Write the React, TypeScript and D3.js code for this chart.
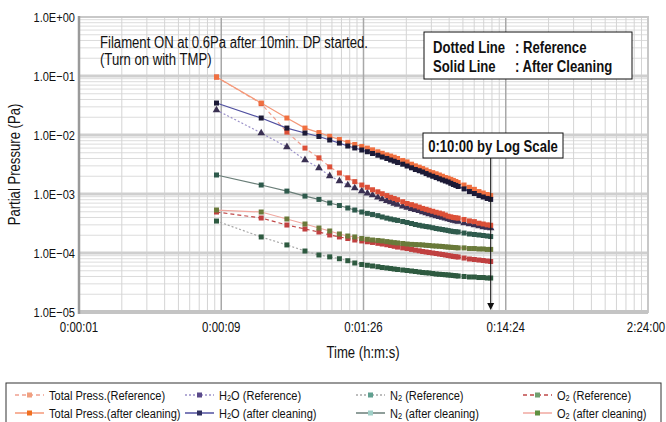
import React from 'react';
import * as d3 from 'd3';

// sample times in seconds after filament ON
const times = [8, 16.5, 25, 33.5, 42, 50, 58.5, 67, 75, 84, 92, 100, 109, 117, 126, 134, 142, 150, 163, 175, 188, 200, 213, 225, 238, 250, 265, 280, 295, 310, 325, 340, 355, 370, 385, 400, 440, 480, 520, 560, 600, 640, 677];

const totalRef = [0.096, 0.034, 0.0112, 0.006, 0.0041, 0.00288, 0.00227, 0.00188, 0.00162, 0.00142, 0.0013, 0.00118, 0.00109, 0.00101, 0.00094, 0.00088, 0.00084, 0.0008, 0.00074, 0.00069, 0.00066, 0.00063, 0.0006, 0.00057, 0.00055, 0.00053, 0.00051, 0.00049, 0.000475, 0.00046, 0.00044, 0.00042, 0.00041, 0.0004, 0.000395, 0.00039, 0.00037, 0.00035, 0.00034, 0.00032, 0.00031, 0.0003, 0.000295];
const totalAfter = [0.096, 0.0348, 0.0194, 0.0131, 0.011, 0.0095, 0.0084, 0.0075, 0.0069, 0.0064, 0.006, 0.0056, 0.0052, 0.0049, 0.0046, 0.0044, 0.0042, 0.004, 0.0037, 0.0035, 0.0032, 0.003, 0.00285, 0.0027, 0.00255, 0.0024, 0.0023, 0.0022, 0.0021, 0.002, 0.0019, 0.00185, 0.00177, 0.0017, 0.00163, 0.00156, 0.00142, 0.0013, 0.0012, 0.0011, 0.00104, 0.00098, 0.00094];
const h2oRef = [0.0265, 0.0108, 0.00626, 0.00377, 0.00276, 0.00202, 0.00166, 0.00142, 0.00126, 0.00112, 0.00103, 0.00096, 0.00088, 0.00082, 0.00077, 0.00073, 0.00069, 0.00066, 0.00062, 0.00059, 0.00056, 0.00054, 0.00052, 0.000495, 0.000475, 0.000458, 0.00044, 0.000424, 0.00041, 0.0004, 0.000388, 0.000377, 0.000366, 0.000356, 0.000349, 0.000342, 0.000322, 0.00031, 0.000298, 0.000287, 0.000276, 0.000271, 0.000265];
const h2oAfter = [0.0348, 0.0194, 0.0131, 0.0108, 0.00944, 0.00823, 0.0073, 0.00651, 0.00603, 0.00557, 0.0052, 0.00486, 0.00454, 0.00424, 0.004, 0.00377, 0.0036, 0.00342, 0.0032, 0.00298, 0.00278, 0.0026, 0.00248, 0.00236, 0.00222, 0.0021, 0.002, 0.0019, 0.00181, 0.00173, 0.00166, 0.0016, 0.00152, 0.00145, 0.0014, 0.00134, 0.00122, 0.0011, 0.00102, 0.00094, 0.00089, 0.00084, 0.00081];
const n2Ref = [0.000348, 0.000187, 0.000137, 0.000108, 0.0000925, 0.000086, 0.00008, 0.000074, 0.0000677, 0.0000638, 0.000062, 0.0000602, 0.0000585, 0.0000568, 0.0000557, 0.0000546, 0.0000535, 0.0000525, 0.0000515, 0.0000505, 0.0000495, 0.0000486, 0.0000476, 0.0000467, 0.0000462, 0.0000458, 0.0000449, 0.000044, 0.0000436, 0.0000432, 0.0000428, 0.0000424, 0.000042, 0.0000415, 0.0000411, 0.0000407, 0.00004, 0.0000392, 0.0000392, 0.0000384, 0.0000384, 0.0000377, 0.0000377];
const n2After = [0.0021, 0.00142, 0.00112, 0.00092, 0.00081, 0.000704, 0.000638, 0.000579, 0.000535, 0.000495, 0.00047, 0.00045, 0.00043, 0.000408, 0.00039, 0.000377, 0.000366, 0.000356, 0.000342, 0.000329, 0.000316, 0.000304, 0.000295, 0.000287, 0.000281, 0.000276, 0.000268, 0.00026, 0.000255, 0.00025, 0.000245, 0.00024, 0.000235, 0.000231, 0.000229, 0.000227, 0.000218, 0.00021, 0.000206, 0.000202, 0.000198, 0.000194, 0.00019];
const o2Ref = [0.000495, 0.000392, 0.000298, 0.000255, 0.000227, 0.000202, 0.000187, 0.000176, 0.000166, 0.00016, 0.000155, 0.000151, 0.000146, 0.000142, 0.000138, 0.000134, 0.00013, 0.000126, 0.000122, 0.000119, 0.000115, 0.000112, 0.000109, 0.000106, 0.000104, 0.000102, 0.0001, 0.000098, 0.000096, 0.0000944, 0.0000925, 0.0000908, 0.000089, 0.0000873, 0.0000864, 0.0000855, 0.0000822, 0.0000791, 0.0000776, 0.000076, 0.0000746, 0.0000731, 0.0000718];
const o2After = [0.000535, 0.000495, 0.000377, 0.00031, 0.000265, 0.000236, 0.00021, 0.000194, 0.000187, 0.000176, 0.000171, 0.000166, 0.000163, 0.00016, 0.000156, 0.000153, 0.00015, 0.000148, 0.000145, 0.000142, 0.00014, 0.000139, 0.000138, 0.000137, 0.000135, 0.000134, 0.000132, 0.000131, 0.00013, 0.000129, 0.000127, 0.000126, 0.000125, 0.000124, 0.000123, 0.000122, 0.000122, 0.000119, 0.000119, 0.000117, 0.000117, 0.000115, 0.000115];

// axis ticks: x in seconds (0.00001 .. 0.1 day), y in Pa
const xTicks = [0.864, 8.64, 86.4, 864, 8640];
const yTicks = [1, 1e-1, 1e-2, 1e-3, 1e-4, 1e-5];
const yTickLabels = ['1.0E+00', '1.0E\u221201', '1.0E\u221202', '1.0E\u221203', '1.0E\u221204', '1.0E\u221205'];
const markerTime = 677;

const FONT = '"Liberation Sans", Arial, sans-serif';
const NARROW = 0.82; // no condensed face installed, squeeze Liberation Sans

type Series = {
  key: string;
  pre: string;
  sub?: string;
  post?: string;
  values: number[];
  line: string;
  marker: string;
  legendMarker: string;
  dash: string | null;
  shape: 'square' | 'triangle';
};

const series: Series[] = [
  { key: 'h2oRef', pre: 'H', sub: '2', post: 'O (Reference)', values: h2oRef, line: '#9a90c8', marker: '#3a3052', legendMarker: '#5a4a8a', dash: '2,2', shape: 'triangle' },
  { key: 'totalRef', pre: 'Total Press.(Reference)', values: totalRef, line: '#f0a090', marker: '#dc5038', legendMarker: '#f0a080', dash: '4,3', shape: 'square' },
  { key: 'n2Ref', pre: 'N', sub: '2', post: ' (Reference)', values: n2Ref, line: '#a8a8a8', marker: '#2e5a40', legendMarker: '#60a090', dash: '2,2', shape: 'square' },
  { key: 'o2Ref', pre: 'O', sub: '2', post: ' (Reference)', values: o2Ref, line: '#c04848', marker: '#c04040', legendMarker: '#70a070', dash: '4,3', shape: 'square' },
  { key: 'totalAfter', pre: 'Total Press.(after cleaning)', values: totalAfter, line: '#f49878', marker: '#f07040', legendMarker: '#f07020', dash: null, shape: 'square' },
  { key: 'o2After', pre: 'O', sub: '2', post: ' (after cleaning)', values: o2After, line: '#f0a8a0', marker: '#6a7a3a', legendMarker: '#609040', dash: null, shape: 'square' },
  { key: 'n2After', pre: 'N', sub: '2', post: ' (after cleaning)', values: n2After, line: '#6a7e78', marker: '#2e5a4c', legendMarker: '#a0d0c8', dash: null, shape: 'square' },
  { key: 'h2oAfter', pre: 'H', sub: '2', post: 'O (after cleaning)', values: h2oAfter, line: '#5050a0', marker: '#1c1a36', legendMarker: '#303060', dash: null, shape: 'square' },
];

// legend order: columns Total, H2O, N2, O2; rows Reference / after cleaning
const legendOrder = [
  ['totalRef', 'totalAfter'],
  ['h2oRef', 'h2oAfter'],
  ['n2Ref', 'n2After'],
  ['o2Ref', 'o2After'],
];

const fmtTime = (s: number) => {
  const t = Math.round(s);
  const h = Math.floor(t / 3600);
  const m = Math.floor((t % 3600) / 60);
  const sec = t % 60;
  return `${h}:${String(m).padStart(2, '0')}:${String(sec).padStart(2, '0')}`;
};

// narrow text: scale horizontally around its anchor point
const NText = ({ x, y, size, anchor = 'start', bold = false, rotate = 0, dy, children }: any) => (
  <text
    transform={`translate(${x},${y}) rotate(${rotate}) scale(${NARROW},1)`}
    textAnchor={anchor}
    fontSize={size}
    fontWeight={bold ? 'bold' : 'normal'}
    dy={dy}
    fill="#111"
  >
    {children}
  </text>
);

const Marker = ({ cx, cy, color, shape, size = 5 }: { cx: number; cy: number; color: string; shape: string; size?: number }) => {
  if (shape === 'triangle') {
    const p = d3.symbol(d3.symbolTriangle, size * size)();
    return <path d={p || ''} transform={`translate(${cx},${cy})`} fill={color} />;
  }
  return <rect x={cx - size / 2} y={cy - size / 2} width={size} height={size} fill={color} />;
};

const Label = ({ s }: { s: Series }) => (
  <>
    {s.pre}
    {s.sub && (
      <tspan fontSize={9} dy={1}>
        {s.sub}
      </tspan>
    )}
    {s.post && <tspan dy={s.sub ? -1 : 0}>{s.post}</tspan>}
  </>
);

export default function App() {
  const W = 666;
  const H = 422;
  const left = 79, right = 648, top = 17, bottom = 312;

  const x = d3.scaleLog().domain([xTicks[0], xTicks[xTicks.length - 1]]).range([left, right]);
  const y = d3.scaleLog().domain([1e-5, 1]).range([bottom, top]);

  const xMinor = xTicks.slice(0, -1).flatMap((b) => d3.range(2, 10).map((k) => b * k));
  const yMinor = yTicks.slice(1).flatMap((b) => d3.range(2, 10).map((k) => b * k));

  const line = d3
    .line<number>()
    .x((_, i) => x(times[i]))
    .y((d) => y(d));

  const xm = x(markerTime);
  const legendCols = [15, 185, 356, 523];
  const legendRows = [395, 413];

  return (
    <svg width={W} height={H} style={{ position: 'absolute', left: 0, top: 0, background: '#fff' }} fontFamily={FONT}>
      <rect x={0} y={0} width={W} height={H} fill="#fff" />

      {/* grid */}
      <g>
        {yMinor.map((v, i) => (
          <line key={`ym${i}`} x1={left} x2={right} y1={y(v)} y2={y(v)} stroke="#dcdcdc" strokeWidth={1} />
        ))}
        {xMinor.map((v, i) => (
          <line key={`xm${i}`} x1={x(v)} x2={x(v)} y1={top} y2={bottom} stroke="#d4d4d4" strokeWidth={1} />
        ))}
        {yTicks.slice(1, -1).map((v, i) => (
          <line key={`yM${i}`} x1={left} x2={right} y1={y(v)} y2={y(v)} stroke="#cfcfcf" strokeWidth={3} />
        ))}
        {xTicks.slice(1, -1).map((v, i) => (
          <line key={`xM${i}`} x1={x(v)} x2={x(v)} y1={top} y2={bottom} stroke="#a8a8a8" strokeWidth={1.5} />
        ))}
        <rect x={left} y={top} width={right - left} height={bottom - top} fill="none" stroke="#c8c8c8" strokeWidth={2} />
        <line x1={left} x2={right} y1={bottom} y2={bottom} stroke="#c4c4c4" strokeWidth={4} />
        <line x1={left} x2={left} y1={top - 1} y2={bottom + 2} stroke="#9a9a9a" strokeWidth={2.5} />
      </g>

      {/* series */}
      {series.map((s) => (
        <g key={s.key}>
          <path d={line(s.values) || ''} fill="none" stroke={s.line} strokeWidth={1.2} strokeDasharray={s.dash || undefined} />
          {s.values.map((v, i) => (
            <Marker key={i} cx={x(times[i])} cy={y(v)} color={s.marker} shape={s.shape} />
          ))}
        </g>
      ))}

      {/* axes text */}
      {yTicks.map((v, i) => (
        <NText key={`yt${i}`} x={75} y={y(v)} dy="0.35em" anchor="end" size={13.5}>
          {yTickLabels[i]}
        </NText>
      ))}
      {xTicks.map((v, i) => (
        <NText key={`xt${i}`} x={Math.min(x(v), 646)} y={332} anchor="middle" size={14}>
          {fmtTime(v)}
        </NText>
      ))}
      <NText x={20} y={(top + bottom) / 2} rotate={-90} anchor="middle" size={16}>
        Partial Pressure (Pa)
      </NText>
      <NText x={363} y={358} anchor="middle" size={16}>
        Time (h:m:s)
      </NText>

      {/* annotations */}
      <NText x={100} y={48} size={16}>
        Filament ON at 0.6Pa after 10min. DP started.
      </NText>
      <NText x={100} y={65} size={16}>
        (Turn on with TMP)
      </NText>

      <rect x={424} y={32} width={208} height={47} fill="#fff" stroke="#111" strokeWidth={1} />
      <NText x={433} y={53} size={16} bold>Dotted Line</NText>
      <NText x={515} y={53} size={16} bold>: Reference</NText>
      <NText x={433} y={72} size={16} bold>Solid Line</NText>
      <NText x={515} y={72} size={16} bold>: After Cleaning</NText>

      <line x1={xm} x2={xm} y1={158} y2={304} stroke="#111" strokeWidth={1} />
      <path d={`M${xm - 3.5},303 L${xm + 3.5},303 L${xm},310 Z`} fill="#111" />
      <rect x={423} y={133} width={140} height={25} fill="#fff" stroke="#111" strokeWidth={1} />
      <NText x={493} y={151.5} anchor="middle" size={16} bold>
        0:10:00 by Log Scale
      </NText>

      {/* legend */}
      <rect x={6} y={383} width={655} height={60} fill="#fff" stroke="#333" strokeWidth={1} />
      {legendOrder.map((col, ci) =>
        col.map((k, ri) => {
          const s = series.find((d) => d.key === k)!;
          const lx = legendCols[ci];
          const ly = legendRows[ri];
          return (
            <g key={k}>
              <line x1={lx} x2={lx + 29} y1={ly} y2={ly} stroke={s.line} strokeWidth={1.5} strokeDasharray={s.dash || undefined} />
              <Marker cx={lx + 14.5} cy={ly} color={s.legendMarker} shape="square" size={5} />
              <NText x={lx + 34} y={ly + 4.5} size={13.5}>
                <Label s={s} />
              </NText>
            </g>
          );
        })
      )}
    </svg>
  );
}
